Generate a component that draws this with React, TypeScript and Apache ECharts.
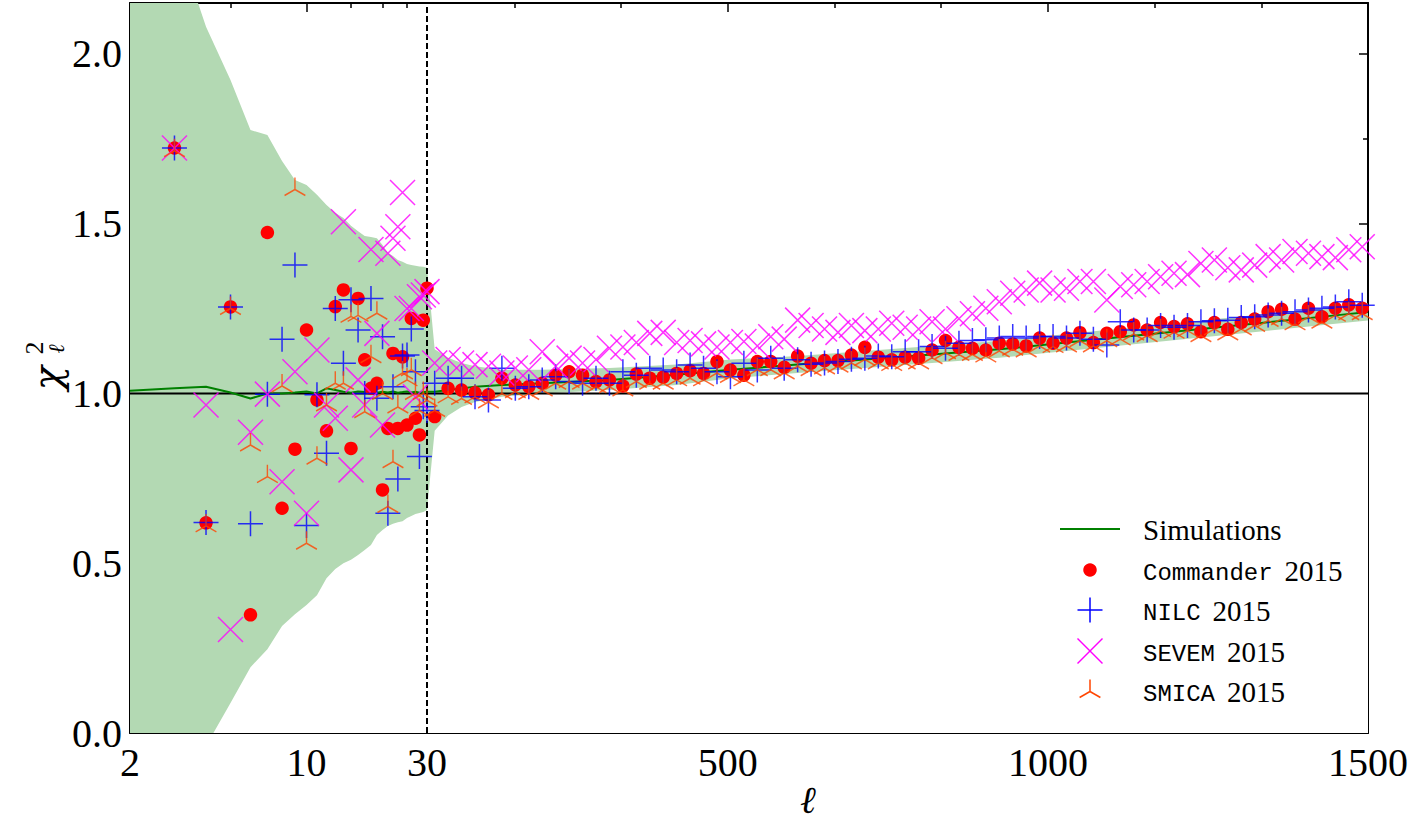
import React, { useEffect, useRef } from "react";
import * as echarts from "echarts";

// ---- Low multipoles (log scale, 2 <= l <= 30) ----
const lowEll = [3, 4, 5, 6, 7, 8, 9, 10, 11, 12, 13, 14, 15, 16, 17, 18, 19, 20, 21, 22, 23, 24, 25, 26, 27, 28, 29, 30];
const commanderLow = [1.723, 0.619, 1.255, 0.348, 1.474, 0.662, 0.836, 1.187, 0.981, 0.89, 1.256, 1.305, 0.838, 1.28, 1.099, 1.015, 1.03, 0.716, 0.897, 1.118, 0.897, 1.108, 0.907, 1.221, 0.927, 0.878, 1.216, 1.31];
const nilcLow = [1.723, 0.62, 1.255, 0.616, 0.998, 1.16, 1.378, 0.611, 0.996, 0.824, 1.25, 1.089, 1.276, 1.187, 1.0, 1.28, 0.986, 1.167, 0.647, 1.02, 0.748, 1.11, 1.113, 1.19, 1.064, 0.814, 0.961, 0.95];
const sevemLow = [1.723, 0.966, 0.305, 0.886, 0.998, 0.74, 1.064, 0.647, 1.128, 0.966, 0.927, 1.506, 0.775, 1.04, 0.966, 1.424, 1.177, 0.907, 1.413, 1.457, 1.491, 1.592, 1.25, 1.25, 0.99, 1.285, 1.29, 1.3];
const smicaLow = [1.715, 0.61, 1.25, 0.848, 0.755, 1.022, 1.601, 0.559, 0.809, 0.966, 1.03, 1.03, 1.227, 1.23, 0.946, 1.108, 1.236, 1.0, 0.667, 0.799, 0.96, 1.06, 1.04, 1.07, 1.0, 0.95, 1.0, 0.98];

// ---- High multipoles (linear scale, binned) ----
const highEll = [42, 63, 84, 105, 126, 147, 168, 189, 210, 231, 252, 273, 294, 315, 336, 357, 378, 399, 420, 441, 462, 483, 504, 525, 546, 567, 588, 609, 630, 651, 672, 693, 714, 735, 756, 777, 798, 819, 840, 861, 882, 903, 924, 945, 966, 987, 1008, 1029, 1050, 1071, 1092, 1113, 1134, 1155, 1176, 1197, 1218, 1239, 1260, 1281, 1302, 1323, 1344, 1365, 1386, 1407, 1428, 1449, 1470, 1491];
const commanderHigh = [0.932, 1.015, 1.01, 1.002, 0.996, 1.045, 1.025, 1.02, 1.03, 1.054,
  1.064, 1.054, 1.035, 1.04, 1.022, 1.057, 1.045, 1.048, 1.059, 1.067,
  1.059, 1.094, 1.069, 1.054, 1.094, 1.094, 1.077, 1.11, 1.089, 1.097,
  1.097, 1.113, 1.136, 1.107, 1.099, 1.107, 1.104, 1.128, 1.156, 1.136,
  1.133, 1.128, 1.148, 1.146, 1.14, 1.163, 1.148, 1.163, 1.179, 1.15,
  1.177, 1.182, 1.202, 1.187, 1.209, 1.197, 1.205, 1.182, 1.209, 1.189,
  1.209, 1.219, 1.241, 1.248, 1.219, 1.251, 1.226, 1.251, 1.261, 1.251];
const nilcHigh = [1.03, 1.045, 1.045, 0.99, 0.981, 1.074, 1.015, 1.02, 1.04, 1.049,
  1.035, 1.03, 1.045, 1.03, 1.064, 1.054, 1.074, 1.069, 1.064, 1.084,
  1.074, 1.064, 1.049, 1.089, 1.069, 1.104, 1.074, 1.099, 1.086, 1.09,
  1.094, 1.101, 1.104, 1.11, 1.108, 1.123, 1.123, 1.138, 1.133, 1.148,
  1.156, 1.158, 1.163, 1.168, 1.163, 1.168, 1.168, 1.163, 1.177, 1.16,
  1.143, 1.211, 1.187, 1.187, 1.2, 1.195, 1.2, 1.211, 1.214, 1.216,
  1.224, 1.226, 1.231, 1.236, 1.241, 1.246, 1.251, 1.255, 1.27, 1.26];
const sevemHigh = [1.09, 1.1, 1.09, 1.085, 1.08, 1.06, 1.075, 1.07, 1.123, 1.08,
  1.104, 1.09, 1.1, 1.133, 1.137, 1.15, 1.177, 1.18, 1.15, 1.156,
  1.146, 1.137, 1.15, 1.153, 1.14, 1.167, 1.16, 1.216, 1.2, 1.19,
  1.18, 1.2, 1.185, 1.19, 1.207, 1.195, 1.19, 1.211, 1.19, 1.22,
  1.235, 1.251, 1.27, 1.295, 1.305, 1.325, 1.305, 1.31, 1.33, 1.33,
  1.275, 1.315, 1.32, 1.33, 1.344, 1.354, 1.35, 1.383, 1.393, 1.37,
  1.364, 1.378, 1.403, 1.393, 1.418, 1.413, 1.403, 1.4, 1.423, 1.432];
const smicaHigh = [0.95, 0.99, 0.985, 0.99, 0.975, 1.0, 1.005, 1.0, 1.01, 1.03,
  1.035, 1.03, 1.02, 1.02, 1.01, 1.035, 1.03, 1.03, 1.04, 1.045,
  1.04, 1.06, 1.05, 1.04, 1.07, 1.07, 1.06, 1.08, 1.07, 1.075,
  1.08, 1.09, 1.1, 1.09, 1.085, 1.09, 1.09, 1.105, 1.12, 1.115,
  1.115, 1.11, 1.125, 1.13, 1.125, 1.14, 1.138, 1.14, 1.155, 1.14,
  1.155, 1.16, 1.175, 1.17, 1.185, 1.18, 1.185, 1.17, 1.19, 1.175,
  1.19, 1.2, 1.215, 1.22, 1.205, 1.225, 1.21, 1.23, 1.235, 1.235];

// ---- Simulations: mean and spread ----
const simEllLow = [2, 3, 4, 5, 6, 7, 8, 9, 10, 11, 12, 13, 14, 15, 16, 17, 18, 19, 20, 21, 22, 23, 24, 25, 26, 27, 28, 29, 30];
const simMeanLow = [1.008, 1.015, 1.02, 1.003, 0.985, 1.0, 1.0, 1.003, 1.006, 1.0, 1.015, 1.01, 1.005, 1.002, 1.006, 1.004, 1.0, 1.002, 1.005, 1.003, 1.006, 1.002, 1.004, 1.006, 1.003, 1.005, 1.002, 1.004, 1.005];
const simLowerLow = [-0.45, -0.2, -0.038, 0.088, 0.194, 0.247, 0.315, 0.35, 0.377, 0.406, 0.456, 0.483, 0.5, 0.51, 0.524, 0.539, 0.554, 0.583, 0.598, 0.61, 0.616, 0.621, 0.624, 0.633, 0.639, 0.645, 0.648, 0.651, 0.657];
const simUpperLow = [3.0, 2.356, 2.08, 1.923, 1.776, 1.761, 1.685, 1.629, 1.614, 1.585, 1.555, 1.532, 1.517, 1.494, 1.478, 1.464, 1.461, 1.457, 1.437, 1.414, 1.405, 1.393, 1.388, 1.381, 1.378, 1.376, 1.374, 1.373, 1.37];
const simEllHigh = [30, 42, 63, 84, 105, 147, 210, 315, 420, 504, 609, 714, 819, 924, 1029, 1134, 1239, 1344, 1449, 1500];
const simMeanHigh = [1.005, 1.005, 1.01, 1.015, 1.02, 1.025, 1.03, 1.04, 1.055, 1.07, 1.085, 1.1, 1.115, 1.13, 1.15, 1.17, 1.19, 1.21, 1.23, 1.24];
const simLowerHigh = [0.657, 0.89, 0.935, 0.96, 0.975, 0.99, 1.0, 1.01, 1.025, 1.045, 1.06, 1.075, 1.09, 1.105, 1.125, 1.145, 1.165, 1.185, 1.205, 1.215];
const simUpperHigh = [1.37, 1.13, 1.105, 1.09, 1.08, 1.07, 1.07, 1.075, 1.085, 1.1, 1.11, 1.125, 1.14, 1.155, 1.175, 1.195, 1.215, 1.235, 1.255, 1.265];

// ---- Axis ticks ----
const yMajorTicks = [0, 0.5, 1, 1.5, 2];
const yMinorTicks = [0.25, 0.75, 1.25, 1.75];
const xLogLabels = [2, 10];
const xLogMajor = [10];
const xLogMinor = [5, 15, 20, 25];
const xLinLabels = [30, 500, 1000, 1500];
const xLinMajor = [500, 1000];
const xLinMinor = [166.667, 333.333, 666.667, 833.333, 1166.667, 1333.333];

const SERIF = "Liberation Serif";
const MONO = "Liberation Mono";
const BAND = "#b3d9b3";
const GREEN = "#008000";
const RED = "#ff0000";
const BLUE = "#0000ff";
const MAGENTA = "#ff00ff";
const ORANGE = "#ff4500";

const PLUS = "path://M0,10L20,10M10,0L10,20";
const CROSS = "path://M0,0L20,20M20,0L0,20";
const TRI = "path://M10.39,0L10.39,12L0,18M10.39,12L20.78,18M10.39,24L10.39,24";

const zip = (xs: number[], ys: number[]) => xs.map((x, i) => [x, ys[i]]);

function xAxisDef(grid: number, type: "log" | "value", pos: "top" | "bottom", ticks: number[], len: number, line: boolean, labels?: number[]) {
  const base: any = {
    type,
    gridIndex: grid,
    position: pos,
    min: type === "log" ? 2 : 30,
    max: type === "log" ? 30 : 1500,
    axisLine: { show: line, onZero: false, lineStyle: { color: "#000", width: 2 } },
    axisTick: { show: true, inside: true, length: len, customValues: ticks, lineStyle: { color: "#000", width: 1.5 } },
    axisLabel: labels
      ? { show: true, customValues: labels, formatter: (v: number) => String(Math.round(v)), fontFamily: SERIF, fontSize: 40, color: "#000", margin: 9 }
      : { show: false },
    splitLine: { show: false },
    minorTick: { show: false },
  };
  if (type === "log") base.logBase = 10;
  return base;
}

function yAxisDef(grid: number, pos: "left" | "right", ticks: number[], len: number, line: boolean, labels: boolean) {
  return {
    type: "value",
    gridIndex: grid,
    position: pos,
    min: 0,
    max: 2.15,
    axisLine: { show: line, onZero: false, lineStyle: { color: "#000", width: 2 } },
    axisTick: { show: true, inside: true, length: len, customValues: ticks, lineStyle: { color: "#000", width: 1.5 } },
    axisLabel: labels
      ? { show: true, customValues: ticks, formatter: (v: number) => v.toFixed(1), fontFamily: SERIF, fontSize: 40, color: "#000", margin: 8 }
      : { show: false },
    splitLine: { show: false },
  };
}

function scatter(name: string, xs: number[], ys: number[], xi: number, yi: number, symbol: string, size: number | number[], color: string, stroke: boolean, z: number) {
  return {
    type: "scatter",
    name,
    xAxisIndex: xi,
    yAxisIndex: yi,
    data: zip(xs, ys),
    symbol,
    symbolSize: size,
    itemStyle: stroke
      ? { color: "rgba(0,0,0,0)", borderColor: color, borderWidth: 1.5 }
      : { color, opacity: 1 },
    z,
    silent: true,
  };
}

// The spread band: the upper edge is filled in green down to the axis floor,
// then the area under the lower edge is painted back to white.
function bandSeries(xs: number[], lo: number[], hi: number[], xi: number, yi: number) {
  return [
    {
      type: "line", xAxisIndex: xi, yAxisIndex: yi, data: zip(xs, hi),
      symbol: "none", lineStyle: { width: 0, opacity: 0 }, areaStyle: { color: BAND, opacity: 1, origin: "start" }, z: 1, silent: true,
    },
    {
      type: "line", xAxisIndex: xi, yAxisIndex: yi, data: zip(xs, lo),
      symbol: "none", lineStyle: { width: 0, opacity: 0 }, areaStyle: { color: "#ffffff", opacity: 1, origin: "start" }, z: 1.5, silent: true,
    },
  ];
}

function refLine(data: number[][], xi: number, yi: number, dashed: boolean) {
  return {
    type: "line", xAxisIndex: xi, yAxisIndex: yi, data, symbol: "none", clip: false,
    lineStyle: { color: "#000", width: 2, type: dashed ? [6, 3] : "solid" }, z: 2, silent: true,
  };
}

const TOP = 100;
const LEGEND_X = 1143;
const MONO_SIZE = 24;
const MONO_ADVANCE = MONO_SIZE * 0.6;

function plainText(text: string, x: number, y: number, family: string, size: number, italic = false) {
  return {
    type: "text", z: TOP, x, y,
    style: {
      text, fontFamily: family, fontSize: size, fontStyle: italic ? "italic" : "normal", fill: "#000",
      align: "left", textAlign: "left", verticalAlign: "middle", textVerticalAlign: "middle",
    },
  };
}

// A legend label: an optional typewriter word followed by roman text.
function legendLabel(y: number, mono: string | null, serif: string) {
  if (!mono) return [plainText(serif, LEGEND_X, y, SERIF, 29)];
  const serifX = LEGEND_X + mono.length * MONO_ADVANCE + 12;
  return [plainText(mono, LEGEND_X, y + 2, MONO, MONO_SIZE), plainText(serif, serifX, y, SERIF, 29)];
}

function legendLine(x1: number, y1: number, x2: number, y2: number, color: string, width: number) {
  return { type: "line", z: TOP, shape: { x1, y1, x2, y2 }, style: { stroke: color, lineWidth: width } };
}

function rotatedText(text: string, x: number, y: number, family: string, size: number, italic: boolean) {
  return {
    type: "text", z: TOP, x, y, rotation: Math.PI / 2,
    style: {
      text, fontFamily: family, fontSize: size, fontStyle: italic ? "italic" : "normal", fill: "#000",
      align: "center", textAlign: "center", verticalAlign: "middle", textVerticalAlign: "middle",
    },
  };
}

export default function App() {
  const ref = useRef<HTMLDivElement>(null);
  useEffect(() => {
    if (!ref.current) return;
    const chart = echarts.init(ref.current, null, { renderer: "svg" });
    const option: any = {
      animation: false,
      backgroundColor: "#fff",
      grid: [
        { left: 130, top: 3, width: 297, height: 730 },
        { left: 427, top: 3, width: 943, height: 730 },
      ],
      xAxis: [
        xAxisDef(0, "log", "bottom", xLogMajor, 9, true, xLogLabels),
        xAxisDef(0, "log", "bottom", xLogMinor, 5, false),
        xAxisDef(0, "log", "top", xLogMajor, 9, true),
        xAxisDef(0, "log", "top", xLogMinor, 5, false),
        xAxisDef(1, "value", "bottom", xLinMajor, 9, true, xLinLabels),
        xAxisDef(1, "value", "bottom", xLinMinor, 5, false),
        xAxisDef(1, "value", "top", xLinMajor, 9, true),
        xAxisDef(1, "value", "top", xLinMinor, 5, false),
      ],
      yAxis: [
        yAxisDef(0, "left", yMajorTicks, 9, true, true),
        yAxisDef(0, "left", yMinorTicks, 5, false, false),
        yAxisDef(1, "right", yMajorTicks, 9, true, false),
        yAxisDef(1, "right", yMinorTicks, 5, false, false),
      ],
      series: [
        ...bandSeries(simEllLow, simLowerLow, simUpperLow, 0, 0),
        ...bandSeries(simEllHigh, simLowerHigh, simUpperHigh, 4, 2),
        refLine([[2, 1], [30, 1]], 0, 0, false),
        refLine([[30, 1], [1500, 1]], 4, 2, false),
        refLine([[30, 0], [30, 2.15]], 4, 2, true),
        {
          type: "line", name: "Simulations", xAxisIndex: 0, yAxisIndex: 0, data: zip(simEllLow, simMeanLow),
          symbol: "none", lineStyle: { color: GREEN, width: 2 }, z: 2, silent: true,
        },
        {
          type: "line", name: "Simulations", xAxisIndex: 4, yAxisIndex: 2, data: zip(simEllHigh, simMeanHigh),
          symbol: "none", lineStyle: { color: GREEN, width: 2 }, z: 2, silent: true,
        },
        scatter("Commander 2015", lowEll, commanderLow, 0, 0, "circle", 13.5, RED, false, 3),
        scatter("Commander 2015", highEll, commanderHigh, 4, 2, "circle", 13.5, RED, false, 3),
        scatter("NILC 2015", lowEll, nilcLow, 0, 0, PLUS, 25, BLUE, true, 4),
        scatter("NILC 2015", highEll, nilcHigh, 4, 2, PLUS, 25, BLUE, true, 4),
        scatter("SEVEM 2015", lowEll, sevemLow, 0, 0, CROSS, 25, MAGENTA, true, 5),
        scatter("SEVEM 2015", highEll, sevemHigh, 4, 2, CROSS, 25, MAGENTA, true, 5),
        scatter("SMICA 2015", lowEll, smicaLow, 0, 0, TRI, [20.78, 24], ORANGE, true, 6),
        scatter("SMICA 2015", highEll, smicaHigh, 4, 2, TRI, [20.78, 24], ORANGE, true, 6),
      ],
      graphic: [
        // y-axis title: chi^2_ell, reading bottom to top
        rotatedText("χ", 47, 378, "DejaVu Serif", 40, true),
        rotatedText("2", 34, 348, SERIF, 26, false),
        rotatedText("ℓ", 56, 349, "DejaVu Serif", 22, true),
        // x-axis title
        { type: "text", z: TOP, x: 808, y: 800, style: { text: "ℓ", fontFamily: "DejaVu Serif", fontStyle: "italic", fontSize: 38, fill: "#000", align: "center", textAlign: "center", verticalAlign: "middle", textVerticalAlign: "middle" } },
        // legend keys
        legendLine(1060, 529, 1120, 529, GREEN, 2),
        { type: "circle", z: TOP, shape: { cx: 1090, cy: 570, r: 6.75 }, style: { fill: RED } },
        legendLine(1077.5, 610, 1102.5, 610, BLUE, 1.5),
        legendLine(1090, 597.5, 1090, 622.5, BLUE, 1.5),
        legendLine(1077.5, 638.5, 1102.5, 663.5, MAGENTA, 1.5),
        legendLine(1102.5, 638.5, 1077.5, 663.5, MAGENTA, 1.5),
        legendLine(1090, 679.5, 1090, 691.5, ORANGE, 1.5),
        legendLine(1090, 691.5, 1079.6, 697.5, ORANGE, 1.5),
        legendLine(1090, 691.5, 1100.4, 697.5, ORANGE, 1.5),
        // legend labels
        ...legendLabel(530, null, "Simulations"),
        ...legendLabel(571, "Commander", "2015"),
        ...legendLabel(611, "NILC", "2015"),
        ...legendLabel(652, "SEVEM", "2015"),
        ...legendLabel(692, "SMICA", "2015"),
      ],
    };
    chart.setOption(option);
    return () => chart.dispose();
  }, []);
  return <div ref={ref} style={{ position: "fixed", left: 0, top: 0, width: 1411, height: 823, background: "#fff" }} />;
}
